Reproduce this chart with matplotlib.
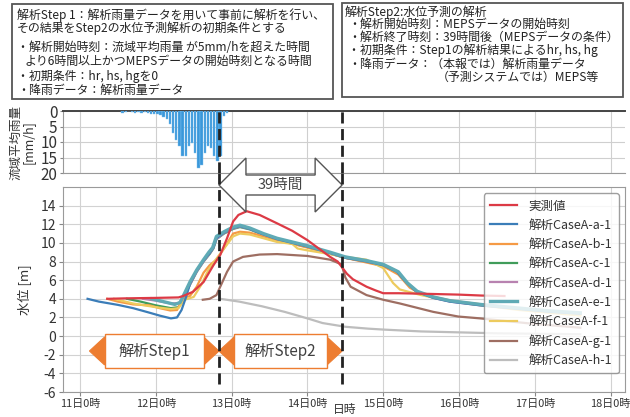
import matplotlib.pyplot as plt
import numpy as np
from matplotlib.patches import Polygon, Rectangle
from matplotlib.transforms import blended_transform_factory

plt.rcParams['font.family'] = ['Noto Sans CJK JP', 'DejaVu Sans']
plt.rcParams['axes.unicode_minus'] = False

# 時刻は「日」単位で持つ (11.0 = 11日0時)
days = [11, 12, 13, 14, 15, 16, 17, 18]
day_labels = [f'{d}日0時' for d in days]

# 流域平均雨量 [mm/h] : 11日13時からの1時間ごと
rain_start = 11 + 13 / 24
rain_mm = [0.8, 0.3, 0.0, 0.2, 0.5, 0.3, 0.6, 0.4, 0.7, 0.9, 1.0,
           1.1, 1.4, 1.8, 2.7, 4.3, 7.0, 9.2, 11.4, 14.6, 14.6, 11.4, 10.3,
           13.5, 18.4, 17.3, 13.5, 11.4, 12.0, 14.6, 16.2, 14.6, 1.6, 0.5]

# 実測値
t_obs = [11.36, 11.6, 12.0, 12.3, 12.36, 12.49, 12.63, 12.76, 12.85, 12.94,
         13.02, 13.09, 13.2, 13.37, 13.6, 13.8, 14.0, 14.15, 14.3, 14.4,
         14.52, 14.6, 14.78, 14.9, 15.0, 15.2, 15.5, 16.0, 16.3, 16.6]
h_obs = [4.0, 4.05, 4.1, 4.15, 4.3, 4.75, 5.8, 7.6, 8.7, 10.5,
         12.3, 13.0, 13.4, 13.0, 12.1, 11.3, 10.3, 9.4, 8.5, 8.0,
         6.7, 6.1, 5.3, 4.9, 4.6, 4.6, 4.55, 4.45, 4.35, 4.3]

# 解析CaseA-a-1
t_a = [11.1, 11.25, 11.5, 11.7, 11.9, 12.05, 12.2, 12.28, 12.34, 12.4,
       12.45, 12.54, 12.63, 12.71, 12.76, 12.8, 12.9, 13.02, 13.11, 13.24,
       13.42, 13.6, 13.8, 14.0, 14.3, 14.5, 14.78, 15.0, 15.18, 15.31,
       15.44, 15.66, 15.88, 16.28, 16.8, 17.2, 17.6]
h_a = [4.0, 3.7, 3.35, 3.0, 2.55, 2.2, 1.9, 2.0, 2.8, 4.2,
       5.6, 7.0, 8.1, 8.9, 9.5, 10.5, 11.1, 11.6, 11.8, 11.5,
       10.9, 10.4, 10.0, 9.6, 8.9, 8.4, 8.0, 7.6, 6.9, 5.7,
       4.75, 4.1, 3.7, 3.3, 2.9, 2.6, 2.4]

# 解析CaseA-b-1
t_b = [11.36, 11.5, 11.7, 11.92, 12.05, 12.19, 12.28, 12.36, 12.45, 12.54,
       12.63, 12.71, 12.8, 12.9, 12.96, 13.02, 13.11, 13.24, 13.42, 13.6,
       14.0, 14.5, 15.0, 15.2, 15.35, 15.5, 15.9, 16.3, 17.0, 17.6]
h_b = [4.0, 3.7, 3.4, 3.3, 3.0, 2.75, 2.8, 4.1, 4.3, 5.3,
       6.8, 7.6, 8.2, 9.4, 10.2, 11.0, 11.2, 11.1, 10.7, 10.3,
       9.5, 8.4, 7.5, 6.6, 5.2, 4.5, 3.8, 3.4, 2.7, 2.3]

# 解析CaseA-c-1
t_c = [11.62, 11.8, 12.0, 12.2, 12.3, 12.36, 12.45, 12.54, 12.63, 12.71,
       12.76, 12.8, 12.9, 13.02, 13.11, 13.24, 13.42, 13.6, 13.8, 14.0,
       14.3, 14.5, 14.78, 15.0, 15.18, 15.31, 15.44, 15.66, 15.88, 16.28,
       16.8, 17.2, 17.6]
h_c = [4.0, 3.7, 3.3, 3.0, 3.1, 3.9, 5.5, 6.9, 8.0, 8.8,
       9.4, 10.4, 11.0, 11.5, 11.7, 11.45, 10.85, 10.35, 9.95, 9.55,
       8.85, 8.4, 8.0, 7.6, 6.95, 5.8, 4.8, 4.15, 3.75, 3.35,
       2.95, 2.65, 2.45]

# 解析CaseA-d-1
t_d = [11.83, 12.0, 12.2, 12.3, 12.36, 12.45, 12.54, 12.63, 12.71, 12.76,
       12.8, 12.9, 13.02, 13.11, 13.24, 13.42, 13.6, 13.8, 14.0, 14.3,
       14.5, 14.78, 15.0, 15.18, 15.31, 15.44, 15.66, 15.88, 16.28, 16.8,
       17.2, 17.6]
h_d = [4.0, 3.8, 3.5, 3.55, 4.0, 5.5, 6.9, 8.0, 8.85, 9.45,
       10.4, 11.05, 11.55, 11.75, 11.5, 10.9, 10.4, 10.0, 9.6, 8.9,
       8.4, 8.0, 7.6, 6.9, 5.75, 4.8, 4.1, 3.7, 3.3, 2.9,
       2.6, 2.4]

# 解析CaseA-e-1
t_e = [11.95, 12.1, 12.25, 12.32, 12.38, 12.45, 12.54, 12.63, 12.7, 12.75,
       12.8, 12.9, 13.02, 13.11, 13.24, 13.42, 13.6, 13.8, 14.0, 14.3,
       14.5, 14.78, 15.0, 15.2, 15.32, 15.45, 15.66, 15.88, 16.28, 16.8,
       17.2, 17.6]
h_e = [4.0, 3.7, 3.4, 3.6, 4.6, 5.8, 7.1, 8.2, 9.0, 9.5,
       10.7, 11.2, 11.7, 11.9, 11.6, 11.0, 10.5, 10.1, 9.7, 9.0,
       8.5, 8.1, 7.7, 6.9, 5.7, 4.8, 4.2, 3.8, 3.4, 3.0,
       2.7, 2.5]

# 解析CaseA-f-1
t_f = [11.45, 11.7, 12.0, 12.2, 12.3, 12.38, 12.5, 12.6, 12.7, 12.8,
       12.9, 13.02, 13.11, 13.24, 13.42, 13.6, 13.8, 13.87, 14.0, 14.3,
       14.5, 14.78, 15.0, 15.13, 15.22, 15.5, 15.8, 16.2, 16.8, 17.6]
h_f = [4.0, 3.5, 3.1, 2.9, 3.0, 3.9, 4.2, 5.5, 7.2, 8.3,
       9.4, 10.7, 11.0, 10.9, 10.5, 10.1, 9.9, 9.4, 9.2, 8.8,
       8.5, 8.2, 7.3, 5.7, 5.0, 4.4, 3.9, 3.4, 2.8, 2.2]

# 解析CaseA-g-1
t_g = [12.62, 12.71, 12.8, 12.87, 12.94, 13.02, 13.15, 13.37, 13.6, 14.0,
       14.3, 14.45, 14.5, 14.57, 14.78, 15.0, 15.22, 15.66, 15.99, 16.28,
       17.0, 17.6]
h_g = [3.9, 4.0, 4.4, 5.65, 6.9, 8.0, 8.5, 8.75, 8.8, 8.6,
       8.2, 7.7, 6.3, 5.3, 4.4, 3.9, 3.5, 2.6, 2.1, 1.9,
       1.3, 0.9]

# 解析CaseA-h-1
t_h = [12.85, 13.1, 13.4, 13.7, 14.0, 14.2, 14.5, 14.8, 15.0, 15.5,
       16.0, 16.5, 17.0, 17.6]
h_h = [4.0, 3.7, 3.2, 2.6, 1.9, 1.4, 1.0, 0.8, 0.7, 0.5,
       0.4, 0.3, 0.25, 0.2]

series = [
    ('実測値', t_obs, h_obs, '#DC3A45', 1.6, 10),
    ('解析CaseA-a-1', t_a, h_a, '#3B7DB8', 1.6, 6),
    ('解析CaseA-b-1', t_b, h_b, '#F59A45', 1.6, 5),
    ('解析CaseA-c-1', t_c, h_c, '#409C5A', 1.6, 4),
    ('解析CaseA-d-1', t_d, h_d, '#B882B0', 1.6, 4),
    ('解析CaseA-e-1', t_e, h_e, '#5FAAB5', 2.4, 7),
    ('解析CaseA-f-1', t_f, h_f, '#EDCB5E', 1.6, 5),
    ('解析CaseA-g-1', t_g, h_g, '#9E6E62', 1.6, 5),
    ('解析CaseA-h-1', t_h, h_h, '#BDBDBD', 1.6, 3),
]

# Step1 / Step2 の区切り (12日20時) と予測期間 39時間
step1_from = 11 + 3 / 24
t_start = 12 + 20 / 24
forecast_hours = 39
t_end = t_start + forecast_hours / 24

orange = '#ED7D31'
dark = '#333333'
xlim = (10.776, 18.19)

fig = plt.figure(figsize=(6.3, 4.17), dpi=100)


def px(x, y):
    return x / 630, 1 - y / 417


# ---- 説明ボックス ----
fig.patches.append(Rectangle(px(12, 99), 321 / 630, 95 / 417, transform=fig.transFigure,
                             fc='white', ec='#555555', lw=1.3))
fig.patches.append(Rectangle(px(342, 97), 281 / 630, 94 / 417, transform=fig.transFigure,
                             fc='white', ec='#555555', lw=1.3))

left_lines = [
    (17, 15, '解析Step 1：解析雨量データを用いて事前に解析を行い、'),
    (17, 28.5, 'その結果をStep2の水位予測解析の初期条件とする'),
    (17, 47.5, '・解析開始時刻：流域平均雨量 が5mm/hを超えた時間'),
    (25, 61, 'より6時間以上かつMEPSデータの開始時刻となる時間'),
    (17, 76, '・初期条件：hr, hs, hgを0'),
    (17, 90.5, '・降雨データ：解析雨量データ'),
]
right_lines = [
    (345, 12, '解析Step2:水位予測の解析'),
    (348, 24.5, '・解析開始時刻：MEPSデータの開始時刻'),
    (348, 37.5, '・解析終了時刻：39時間後（MEPSデータの条件）'),
    (348, 50.5, '・初期条件：Step1の解析結果によるhr, hs, hg'),
    (348, 64, '・降雨データ：（本報では）解析雨量データ'),
    (437, 77.5, '（予測システムでは）MEPS等'),
]
for x, y, s in left_lines + right_lines:
    fx, fy = px(x, y)
    fig.text(fx, fy, s, fontsize=8.6, color='#222222', ha='left', va='center')

# ---- 流域平均雨量 ----
ax_r = fig.add_axes([63 / 630, 1 - 173 / 417, 562 / 630, 62 / 417])
rain_t = rain_start + (np.arange(len(rain_mm)) + 0.5) / 24
ax_r.bar(rain_t, rain_mm, width=0.75 / 24, color='#3A98DA', edgecolor='#86C3EE',
         linewidth=0.3, zorder=3)
ax_r.set_xlim(*xlim)
ax_r.set_ylim(20, 0)
ax_r.set_yticks([0, 5, 10, 15, 20])
ax_r.set_xticks(days)
ax_r.tick_params(axis='x', length=0, labelbottom=False)
ax_r.tick_params(axis='y', length=2, color='#888888', labelsize=11, labelcolor=dark, pad=2)
ax_r.grid(True, color='#cfcfcf', lw=0.8)
for side in ['left', 'bottom', 'right']:
    ax_r.spines[side].set_color('#999999')
ax_r.spines['right'].set_visible(False)
ax_r.spines['top'].set_color('#444444')
ax_r.spines['top'].set_linewidth(1.4)
ax_r.set_ylabel('流域平均雨量\n[mm/h]', fontsize=9, color=dark, labelpad=4, linespacing=1.0)

# ---- 水位 ----
ax = fig.add_axes([63 / 630, 1 - 392 / 417, 562 / 630, 205 / 417])
for name, t, h, c, lw, z in series:
    ax.plot(t, h, color=c, lw=lw, label=name, zorder=z)

ax.set_xlim(*xlim)
ax.set_ylim(-6, 16)
ax.set_yticks(np.arange(-6, 15, 2))
ax.set_xticks(days)
ax.set_xticklabels(day_labels)
ax.tick_params(axis='y', length=3, color='#888888', labelsize=10, labelcolor=dark, pad=2)
ax.tick_params(axis='x', length=3, color='#888888', labelsize=7.9, labelcolor=dark, pad=2)
ax.grid(True, color='#d2d2d2', lw=0.8, zorder=0)
for s in ax.spines.values():
    s.set_color('#9a9a9a')
ax.set_ylabel('水位 [m]', fontsize=9.5, color=dark, labelpad=6)
fig.text(px(345, 416.5)[0], px(345, 416.5)[1], '日時', fontsize=8.5, color=dark,
         ha='center', va='bottom')

leg = ax.legend(loc='upper right', fontsize=9, handlelength=2.2, handletextpad=0.9,
                labelspacing=0.5, borderpad=0.5, borderaxespad=0.5,
                framealpha=0.82, edgecolor='#8a8a8a', fancybox=True)
leg.get_frame().set_linewidth(1.0)
leg.set_zorder(20)
for txt in leg.get_texts():
    txt.set_color(dark)

# ---- 解析開始・終了の破線 ----
dash = (0, (4, 2))
for t in (t_start, t_end):
    ax_r.axvline(t, color='#222222', lw=2, ls=dash, zorder=8)
    ax.axvline(t, ymin=0.04, ymax=1.068, color='#222222', lw=2, ls=dash,
               zorder=15, clip_on=False)

# ---- 39時間 の両矢印 ----
tr = blended_transform_factory(ax.transData, fig.transFigure)
yc = px(0, 185)[1]
hh = 27 / 417
bh = 10 / 417
hl = 27 / 75.8
arrow_pts = [(t_start, yc), (t_start + hl, yc + hh), (t_start + hl, yc + bh),
             (t_end - hl, yc + bh), (t_end - hl, yc + hh), (t_end, yc),
             (t_end - hl, yc - hh), (t_end - hl, yc - bh), (t_start + hl, yc - bh),
             (t_start + hl, yc - hh)]
ax.add_patch(Polygon(arrow_pts, closed=True, transform=tr, fc='white', ec='#555555',
                     lw=1.0, clip_on=False, zorder=12))
ax.text((t_start + t_end) / 2, yc, f'{forecast_hours}時間', transform=tr, fontsize=10.5,
        color='#444444', ha='center', va='center', zorder=13, clip_on=False)

# ---- Step1 / Step2 の範囲矢印 ----
y_step = -1.6
head_h = 1.5
head_l = 0.2
box_h = 1.83


def step_arrow(t0, t1, label):
    ax.add_patch(Polygon([(t0, y_step), (t0 + head_l, y_step + head_h),
                          (t0 + head_l, y_step - head_h)], closed=True,
                         fc=orange, ec=orange, lw=0.8, zorder=11))
    ax.add_patch(Polygon([(t1, y_step), (t1 - head_l, y_step + head_h),
                          (t1 - head_l, y_step - head_h)], closed=True,
                         fc=orange, ec=orange, lw=0.8, zorder=11))
    ax.add_patch(Rectangle((t0 + head_l, y_step - box_h), t1 - t0 - 2 * head_l, 2 * box_h,
                           fc='white', ec=orange, lw=1.0, zorder=12))
    ax.text((t0 + t1) / 2, y_step, label, fontsize=11, color='#404040',
            ha='center', va='center', zorder=13)


step_arrow(step1_from, t_start, '解析Step1')
step_arrow(t_start, t_end, '解析Step2')

fig.savefig('out.png', dpi=100)
